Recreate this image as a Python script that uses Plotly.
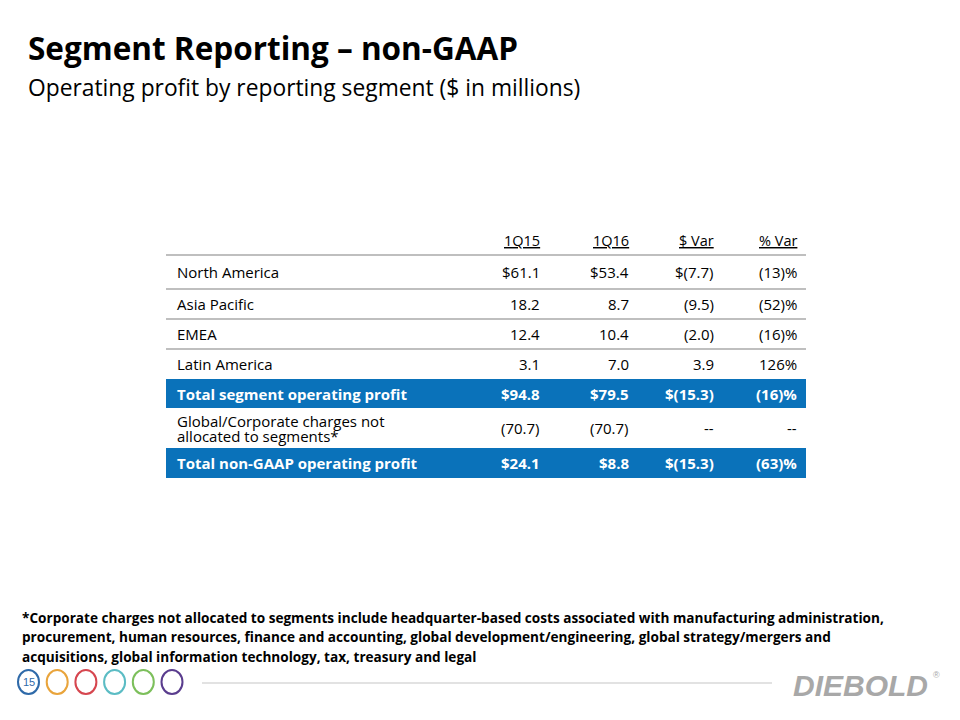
import plotly.graph_objects as go

# ---------------- data ----------------
title = "Segment Reporting \u2013 non-GAAP"
subtitle = "Operating profit by reporting segment ($ in millions)"
columns = ["1Q15", "1Q16", "$ Var", "% Var"]
row_labels = [
    "North America",
    "Asia Pacific",
    "EMEA",
    "Latin America",
    "Total segment operating profit",
    "Global/Corporate charges not<br>allocated to segments*",
    "Total non-GAAP operating profit",
]
q15 = ["$61.1", "18.2", "12.4", "3.1", "$94.8", "(70.7)", "$24.1"]
q16 = ["$53.4", "8.7", "10.4", "7.0", "$79.5", "(70.7)", "$8.8"]
dvar = ["$(7.7)", "(9.5)", "(2.0)", "3.9", "$(15.3)", "--", "$(15.3)"]
pvar = ["(13)%", "(52)%", "(16)%", "126%", "(16)%", "--", "(63)%"]
highlight = [False, False, False, False, True, False, True]
footnote_lines = [
    "*Corporate charges not allocated to segments include headquarter-based costs associated with manufacturing administration,",
    "procurement, human resources, finance and accounting, global development/engineering, global strategy/mergers and",
    "acquisitions, global information technology, tax, treasury and legal",
]
page_number = "15"
circle_colors = ["#2f6aa9", "#e9a43b", "#d6464f", "#5bbcc4", "#7cbf5b", "#5a3d8e"]

# ---------------- layout constants ----------------
FONT = "Open Sans"
BLUE = "#0a72ba"
GRID = "#bfbfbf"
tbl_left, tbl_right = 166, 806
label_x = 176
col_right = [540, 629, 714, 797]
header_y = 240
row_bounds = [(255, 289), (289, 319), (319, 349), (349, 379), (379, 408), (408, 448), (448, 478)]
OFF = 8  # page body margin compensation

fig = go.Figure()
fig.add_trace(go.Scatter(x=[100, 900], y=[100, 700], mode="markers",
                         marker=dict(opacity=0), hoverinfo="skip", showlegend=False))

annotations = []
shapes = []

def ann(x, y, text, size, color="black", xanchor="left", bold=False, font=FONT, yanchor="middle", align="left"):
    annotations.append(dict(x=x, y=y, xref="x", yref="y", text=(f"<b>{text}</b>" if bold else text),
                            showarrow=False, xanchor=xanchor, yanchor=yanchor, align=align,
                            font=dict(family=font, size=size, color=color)))

# titles
ann(26, 47, title, 31.5, bold=True)
ann(26, 87, subtitle, 22.8)

# header
for c, x in zip(columns, col_right):
    ann(x + 2, header_y, f"<u>{c}</u>", 14.5, xanchor="right")

# header rule
shapes.append(dict(type="line", xref="x", yref="y", x0=tbl_left, x1=tbl_right, y0=255, y1=255,
                   line=dict(color=GRID, width=2)))

# rows
for i, (lab, a, b, c, d, hl, (y0, y1)) in enumerate(zip(row_labels, q15, q16, dvar, pvar, highlight, row_bounds)):
    yc = (y0 + y1) / 2
    if hl:
        shapes.append(dict(type="rect", xref="x", yref="y", x0=tbl_left, x1=tbl_right, y0=y0, y1=y1,
                           fillcolor=BLUE, line=dict(width=0), layer="below"))
    color = "white" if hl else "black"
    if "<br>" in lab:
        parts = lab.split("<br>")
        ann(label_x - 1, yc - 7.5, parts[0], 15, color=color, bold=hl)
        ann(label_x - 1, yc + 7.5, parts[1], 15, color=color, bold=hl)
    else:
        ann(label_x - 1, yc, lab, 15, color=color, bold=hl)
    for val, x in zip([a, b, c, d], col_right):
        ann(x + 2, yc, val, 15, color=color, xanchor="right", bold=hl)
    if i < len(row_bounds) - 1 and not hl and not highlight[i + 1]:
        shapes.append(dict(type="line", xref="x", yref="y", x0=tbl_left, x1=tbl_right, y0=y1, y1=y1,
                           line=dict(color=GRID, width=2)))

# footnote
for k, line in enumerate(footnote_lines):
    ann(20, 617 + k * 19.5, line, 13.6, bold=True)

# footer circles
for k, col in enumerate(circle_colors):
    cx = 28.5 + k * 28.7
    shapes.append(dict(type="circle", xref="x", yref="y", x0=cx - 10.5, x1=cx + 10.5, y0=670, y1=694,
                       line=dict(color=col, width=2)))
ann(28.5, 682, page_number, 11, color=circle_colors[0], xanchor="center", font="Liberation Sans")

# footer rule
shapes.append(dict(type="line", xref="x", yref="y", x0=202, x1=772, y0=683, y1=683,
                   line=dict(color="#d9d9d9", width=1.5)))

# logo
ann(791, 685, "<b><i>DIEBOLD</i></b>", 30, color="#a8a8a8", font="Liberation Sans")
ann(931, 675, "\u00ae", 9, color="#a8a8a8", xanchor="left", font="Liberation Sans")

fig.update_layout(
    width=960, height=720,
    margin=dict(l=0, r=0, t=0, b=0),
    paper_bgcolor="white", plot_bgcolor="white",
    xaxis=dict(range=[OFF, 960 + OFF], visible=False, fixedrange=True),
    yaxis=dict(range=[720 + OFF, OFF], visible=False, fixedrange=True),
    annotations=annotations, shapes=shapes, showlegend=False,
)

fig.write_html("out.html")
